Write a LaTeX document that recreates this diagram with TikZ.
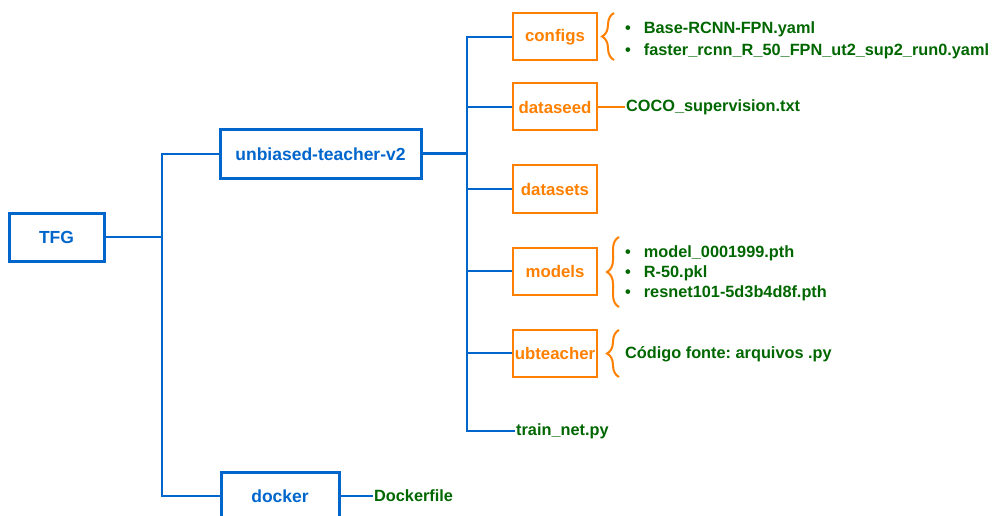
\documentclass[tikz,border=0pt]{standalone}
\usepackage{fontspec}
\setmainfont{Liberation Sans}
\usetikzlibrary{decorations.pathreplacing}
\definecolor{bl}{HTML}{0066CC}
\definecolor{og}{HTML}{FF8000}
\definecolor{gr}{HTML}{006600}
\frenchspacing
\tikzset{
  x=1pt,y=-1pt,
  bbox/.style={draw=bl,line width=3pt,text=bl,font=\fontsize{17.5}{20}\selectfont\bfseries,minimum height=48pt,inner sep=0pt},
  obox/.style={draw=og,line width=2pt,text=og,font=\fontsize{16.8}{20}\selectfont\bfseries,minimum width=84pt,minimum height=47pt,inner sep=0pt},
  gtext/.style={text=gr,font=\fontsize{16.3}{19}\selectfont\bfseries,inner sep=1pt,align=left},
  bline/.style={draw=bl,line width=2pt},
  oline/.style={draw=og,line width=2pt},
  obrace/.style={draw=og,line width=2pt,decorate,decoration={brace,amplitude=12pt}},
}
\newcommand{\bul}{\textbullet\hspace{13pt}}
\begin{document}
\begin{tikzpicture}
\useasboundingbox (0,0) rectangle (996,516);
% blue boxes
\node[bbox,minimum width=95pt] (tfg) at (56.5,237) {TFG};
\node[bbox,minimum width=201pt] (unb) at (320.5,154) {unbiased-teacher-v2};
\node[bbox,minimum width=118pt] (docker) at (280,496) {docker};
% orange boxes
\node[obox] (configs) at (555,37) {configs};
\node[obox] (dataseed) at (555,107) {dataseed};
\node[obox] (datasets) at (555,189) {datasets};
\node[obox] (models) at (555,271) {models};
\node[obox] (ubteacher) at (555,353) {ubteacher};
% green texts
\node[gtext,anchor=west] (train) at (515,431) {train\_net.py};
\node[gtext,anchor=west] (dockerfile) at (373,496) {Dockerfile};
\node[gtext,anchor=west] (coco) at (625,107) {COCO\_supervision.txt};
\node[gtext,anchor=west] (codigo) at (624,354) {Código fonte: arquivos .py};
\node[gtext,anchor=west] (cfgitems) at (624,40) {\bul Base-RCNN-FPN.yaml\\[3pt]\bul faster\_rcnn\_R\_50\_FPN\_ut2\_sup2\_run0.yaml};
\node[gtext,anchor=west] (moditems) at (624,273) {\bul model\_0001999.pth\\[1pt]\bul R-50.pkl\\[1pt]\bul resnet101-5d3b4d8f.pth};
% trunks
\coordinate (lt) at (162,237);
\coordinate (rt) at (467,154);
\draw[bline] (tfg.east) -- (lt);
\draw[bline] (unb.west) -| (lt) |- (docker.west);
\draw[bline,line width=3pt] (unb.east) -- (rt);
\draw[bline] (configs.west) -| (rt) |- (train.west);
\draw[bline] (dataseed.west) -| (rt);
\draw[bline] (datasets.west) -| (rt);
\draw[bline] (models.west) -| (rt);
\draw[bline] (ubteacher.west) -| (rt);
\draw[bline] (docker.east) -- (dockerfile.west);
\draw[oline] (dataseed.east) -- (coco.west);
% braces
\coordinate (b1a) at (614,60); \coordinate (b1b) at (614,13);
\draw[obrace] (b1a) -- (b1b);
\coordinate (b2a) at (619,307); \coordinate (b2b) at (619,237);
\draw[obrace] (b2a) -- (b2b);
\coordinate (b3a) at (619,377); \coordinate (b3b) at (619,330);
\draw[obrace] (b3a) -- (b3b);
\end{tikzpicture}
\end{document}
